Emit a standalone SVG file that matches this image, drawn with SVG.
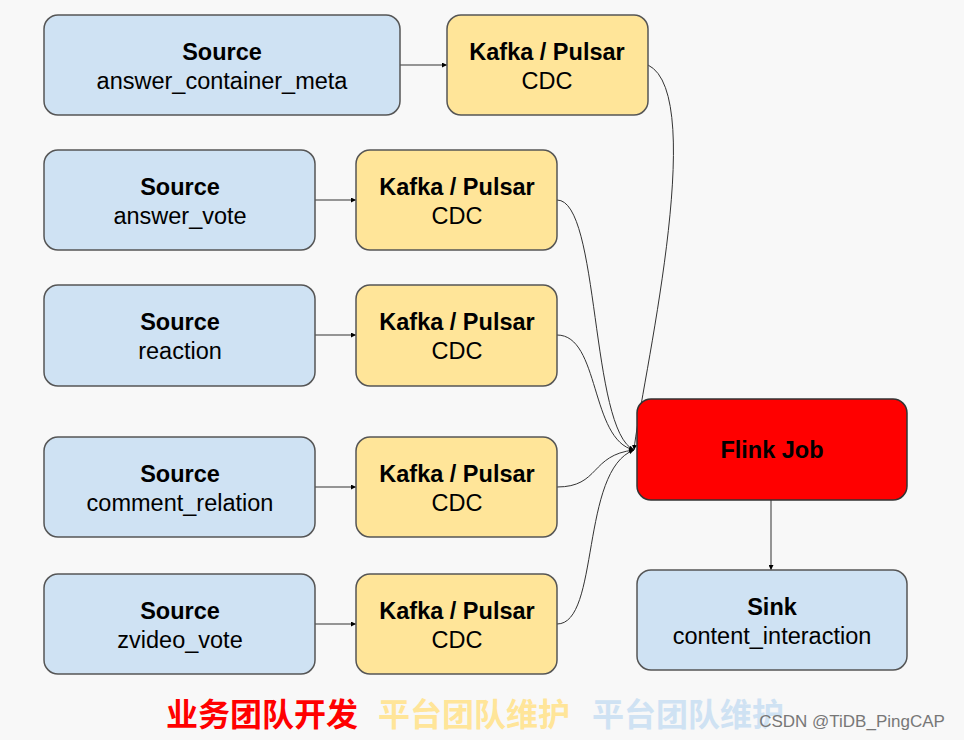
<svg xmlns="http://www.w3.org/2000/svg" width="964" height="740" viewBox="0 0 964 740">
<defs>
<marker id="a" viewBox="0 0 10 10" refX="10" refY="5" markerWidth="5" markerHeight="5" orient="auto"><path d="M0,0L10,5L0,10z" fill="#000"/></marker>
<style>
.s{fill:#cfe2f3;stroke:#555;stroke-width:1.5}
.k{fill:#ffe599;stroke:#555;stroke-width:1.5}
.f{fill:#ff0000;stroke:#333;stroke-width:1.5}
text{font-family:"Liberation Sans",Arial,sans-serif;font-size:23.5px;text-anchor:middle;fill:#000}
.b{font-weight:bold}
.c{fill:none;stroke:#333;stroke-width:1}
.cjk{font-family:"Noto Sans CJK SC",sans-serif;font-size:32px;font-weight:bold;text-anchor:start}
</style>
</defs>
<rect width="964" height="740" fill="#f8f8f8"/>
<g id="connectors">
<path class="c" d="M400,65H447" marker-end="url(#a)"/>
<path class="c" d="M315,200H356" marker-end="url(#a)"/>
<path class="c" d="M315,335H356" marker-end="url(#a)"/>
<path class="c" d="M315,487H356" marker-end="url(#a)"/>
<path class="c" d="M315,624H356" marker-end="url(#a)"/>
<path class="c" d="M648,65C710,95 640,390 634,450" marker-end="url(#a)"/>
<path class="c" d="M557,200C600,200 590,430 634,450" marker-end="url(#a)"/>
<path class="c" d="M557,335C600,335 590,440 634,450" marker-end="url(#a)"/>
<path class="c" d="M557,487C600,487 590,455 634,450" marker-end="url(#a)"/>
<path class="c" d="M557,624C600,624 580,470 634,450" marker-end="url(#a)"/>
<path class="c" d="M771,500V570" marker-end="url(#a)"/>
</g>
<g id="src1"><rect class="s" x="44" y="15" width="356" height="100" rx="14"/><text class="b" x="222" y="60">Source</text><text x="222" y="89">answer_container_meta</text></g>
<g id="kafka1"><rect class="k" x="447" y="15" width="201" height="100" rx="14"/><text class="b" x="547" y="60">Kafka / Pulsar</text><text x="547" y="89">CDC</text></g>
<g id="src2"><rect class="s" x="44" y="150" width="271" height="100" rx="14"/><text class="b" x="180" y="195">Source</text><text x="180" y="224">answer_vote</text></g>
<g id="kafka2"><rect class="k" x="356" y="150" width="201" height="100" rx="14"/><text class="b" x="457" y="195">Kafka / Pulsar</text><text x="457" y="224">CDC</text></g>
<g id="src3"><rect class="s" x="44" y="285" width="271" height="101" rx="14"/><text class="b" x="180" y="330">Source</text><text x="180" y="359">reaction</text></g>
<g id="kafka3"><rect class="k" x="356" y="285" width="201" height="101" rx="14"/><text class="b" x="457" y="330">Kafka / Pulsar</text><text x="457" y="359">CDC</text></g>
<g id="src4"><rect class="s" x="44" y="437" width="271" height="100" rx="14"/><text class="b" x="180" y="482">Source</text><text x="180" y="511">comment_relation</text></g>
<g id="kafka4"><rect class="k" x="356" y="437" width="201" height="100" rx="14"/><text class="b" x="457" y="482">Kafka / Pulsar</text><text x="457" y="511">CDC</text></g>
<g id="src5"><rect class="s" x="44" y="574" width="271" height="100" rx="14"/><text class="b" x="180" y="619">Source</text><text x="180" y="648">zvideo_vote</text></g>
<g id="kafka5"><rect class="k" x="356" y="574" width="201" height="100" rx="14"/><text class="b" x="457" y="619">Kafka / Pulsar</text><text x="457" y="648">CDC</text></g>
<g id="flink"><rect class="f" x="637" y="399" width="270" height="101" rx="14"/><text class="b" x="772" y="458">Flink Job</text></g>
<g id="sink"><rect class="s" x="637" y="570" width="270" height="100" rx="14"/><text class="b" x="772" y="615">Sink</text><text x="772" y="644">content_interaction</text></g>
<g id="legend">
<text class="cjk" x="166" y="726" style="fill:#ff0000">业务团队开发</text>
<text class="cjk" x="378" y="726" style="fill:#ffe599">平台团队维护</text>
<text class="cjk" x="592" y="726" style="fill:#cfe2f3">平台团队维护</text>
<text x="852" y="727" style="font-size:17px;fill:#777">CSDN @TiDB_PingCAP</text>
</g>
</svg>
